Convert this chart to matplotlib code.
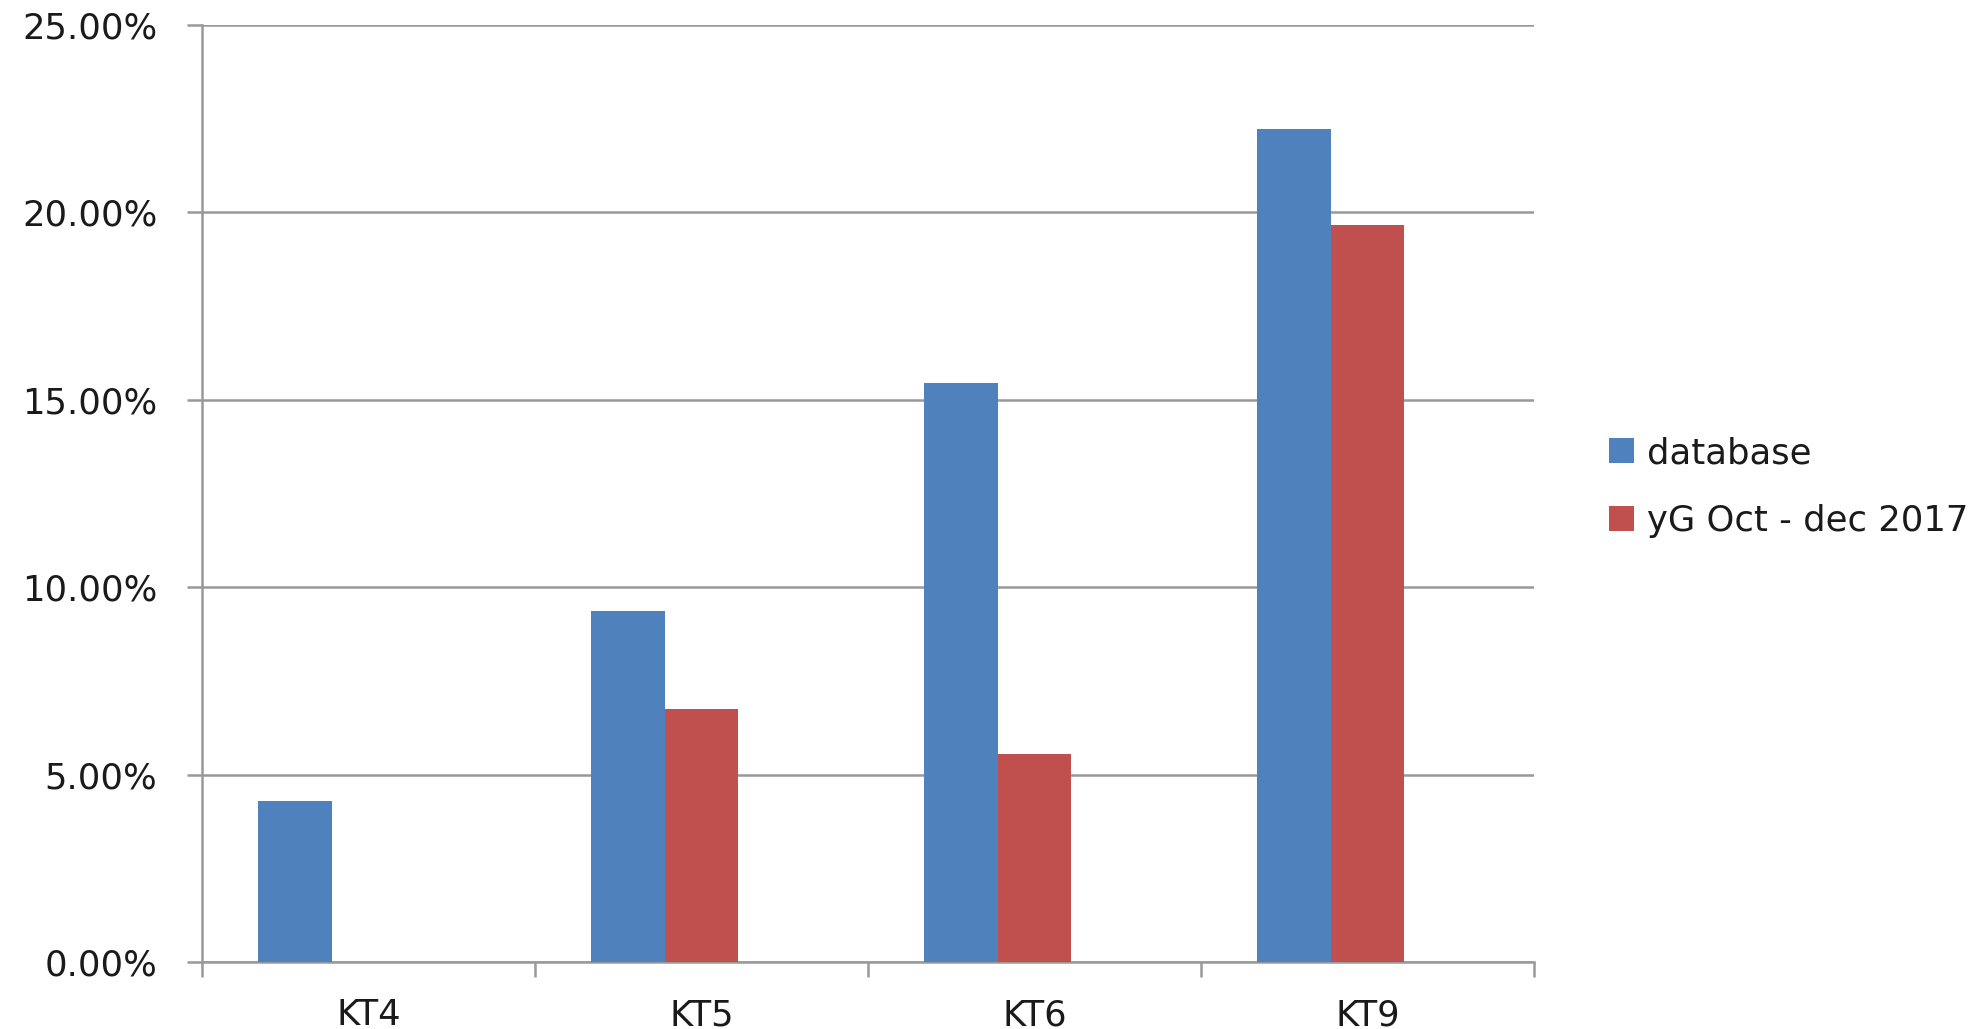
import matplotlib
matplotlib.use("Agg")
import matplotlib.pyplot as plt
from matplotlib.ticker import FuncFormatter, MultipleLocator, FixedLocator
from matplotlib.patches import Patch

categories = ["KT4", "KT5", "KT6", "KT9"]
database = [4.29, 9.36, 15.44, 22.23]
yg_oct_dec_2017 = [0.0, 6.76, 5.54, 19.66]
series_names = ["database", "yG Oct - dec 2017"]
colors = ["#4F81BD", "#C0504D"]

plt.rcParams['font.family'] = ['DejaVu Sans']

W, H = 1988, 1029
fig = plt.figure(figsize=(W/100, H/100), dpi=100)
L, R, T, B = 202, 1534, 25, 962
ax = fig.add_axes([L/W, 1 - B/H, (R-L)/W, (B-T)/H])

x = list(range(len(categories)))
w = 0.222
ax.bar([i - w for i in x], database, width=w, color=colors[0], zorder=3)
ax.bar([i for i in x], yg_oct_dec_2017, width=w, color=colors[1], zorder=3)

ax.set_xlim(-0.5, len(categories) - 0.5)
ax.set_ylim(0, 25)
ax.yaxis.set_major_locator(MultipleLocator(5))
ax.yaxis.set_major_formatter(FuncFormatter(lambda v, p: f"{v:.2f}%"))
ax.set_xticks(x)
ax.set_xticklabels(categories)
ax.xaxis.set_minor_locator(FixedLocator([i - 0.5 for i in range(len(categories) + 1)]))

gc = "#999999"
ax.grid(axis='y', color=gc, linewidth=1.8, zorder=0)
for s in ['top', 'right']:
    ax.spines[s].set_visible(False)
for s in ['left', 'bottom']:
    ax.spines[s].set_color(gc)
    ax.spines[s].set_linewidth(1.8)
fs = 25.5
tc = '#1a1a1a'
ax.tick_params(axis='y', length=11, width=1.8, color=gc, labelsize=fs, pad=21, labelcolor=tc)
ax.tick_params(axis='x', which='major', length=0, labelsize=fs, pad=26, labelcolor=tc)
ax.tick_params(axis='x', which='minor', length=11, width=1.8, color=gc)

handles = [Patch(facecolor=c, edgecolor='none') for c in colors]
fig.legend(handles, series_names, loc='center left', bbox_to_anchor=(1584/W, 1 - 487/H),
           frameon=False, fontsize=fs, handlelength=0.72, handleheight=0.7,
           labelspacing=0.96, handletextpad=0.35, labelcolor=tc, borderpad=0.2)

fig.savefig("out.png", dpi=100, facecolor='white')
